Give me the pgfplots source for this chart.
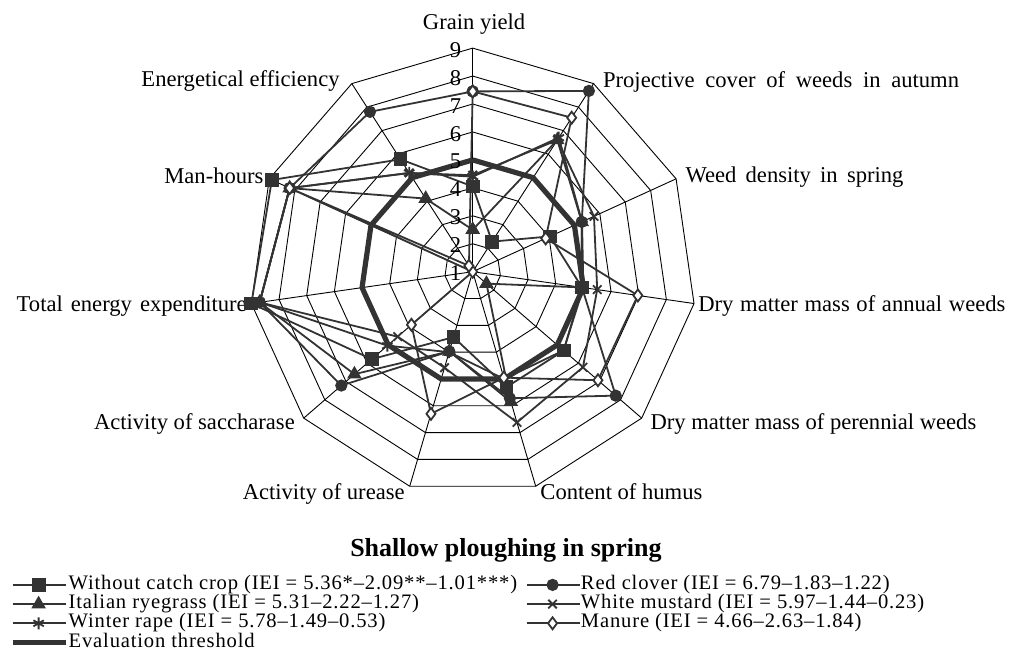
\documentclass[border=0pt]{standalone}
\usepackage{fontspec}
\setmainfont{Liberation Serif}
\newfontfamily\legfont[LetterSpace=4]{Liberation Serif}
\usepackage{pgfplots}
\pgfplotsset{compat=1.18}
\definecolor{ser}{HTML}{333333}
\newcommand{\lblfont}{\fontsize{11.3}{13}\selectfont}
\begin{document}
\begin{tikzpicture}
\path[use as bounding box] (0,0) rectangle (505.5pt,333pt);
\begin{axis}[at={(0,0)}, anchor=south west, scale only axis,
  width=505.5pt, height=333pt,
  xmin=-16.912, xmax=19.259, ymin=-14.107, ymax=9.721,
  hide axis, clip=false,
  grid line/.style={black, line width=0.45pt, forget plot, mark=none},
  series/.style={ser, line width=0.9pt, mark options={solid, fill=ser, draw=ser}},
  legend columns=2,
  legend cell align=left,
  legend style={at={(axis description cs:0.0099,0.1362)}, anchor=north west,
    draw=none, fill=none, inner sep=0pt, outer sep=0pt,
    font=\legfont\fontsize{10.3}{10}\selectfont,
    nodes={inner sep=0.25pt, text height=6.8pt, text depth=2.3pt},
    /tikz/every even column/.append style={column sep=4pt}},
  legend image code/.code={\draw[mark repeat=2,mark phase=2,#1] plot coordinates {(0pt,0pt) (13pt,0pt) (26.5pt,0pt)};},
]
% polygonal rings (values 2..9 -> radius 1..8)
\pgfplotsinvokeforeach{1,2,3,4,5,6,7,8}{
\addplot[grid line, data cs=polar] coordinates {(90,#1) (57.2727,#1) (24.5455,#1) (-8.1818,#1) (-40.9091,#1) (-73.6364,#1) (-106.3636,#1) (-139.0909,#1) (-171.8182,#1) (155.4545,#1) (122.7273,#1) (90,#1)};
}
% spokes
\pgfplotsinvokeforeach{90,57.2727,24.5455,-8.1818,-40.9091,-73.6364,-106.3636,-139.0909,-171.8182,155.4545,122.7273}{
\addplot[grid line, data cs=polar] coordinates {(#1,0) (#1,8)};
}
% series: radius = score - 1 ; axes clockwise from Grain yield
\addplot[series, mark=square*, mark size=3pt, data cs=polar] coordinates {
(90,3.05) (57.2727,1.28) (24.5455,3.04) (-8.1818,3.95) (-40.9091,4.31) (-73.6364,4.30) (-106.3636,2.44) (-139.0909,4.78) (-171.8182,8.00) (155.4545,7.90) (122.7273,4.78) (90,3.05)};
\addlegendentry{Without catch crop (IEI = 5.36*–2.09**–1.01***)}
\addplot[series, mark=*, mark size=2.6pt, data cs=polar] coordinates {
(90,6.45) (57.2727,7.69) (24.5455,4.29) (-8.1818,3.95) (-40.9091,6.77) (-73.6364,4.72) (-106.3636,2.97) (-139.0909,6.22) (-171.8182,7.70) (155.4545,7.20) (122.7273,6.80) (90,6.45)};
\addlegendentry{Red clover (IEI = 6.79–1.83–1.22)}
\addplot[series, mark=triangle*, mark size=3.3pt, data cs=polar] coordinates {
(90,1.50) (57.2727,5.60) (24.5455,4.29) (-8.1818,3.95) (-40.9091,0.65) (-73.6364,4.85) (-106.3636,2.97) (-139.0909,5.60) (-171.8182,7.70) (155.4545,7.20) (122.7273,3.11) (90,1.50)};
\addlegendentry{Italian ryegrass (IEI = 5.31–2.22–1.27)}
\addplot[series, mark=x, mark size=3pt, data cs=polar] coordinates {
(90,3.45) (57.2727,5.60) (24.5455,4.77) (-8.1818,4.50) (-40.9091,5.22) (-73.6364,5.62) (-106.3636,3.58) (-139.0909,3.55) (-171.8182,7.70) (155.4545,7.20) (122.7273,4.20) (90,3.45)};
\addlegendentry{White mustard (IEI = 5.97–1.44–0.23)}
\addplot[series, mark=asterisk, mark size=3pt, data cs=polar] coordinates {
(90,3.40) (57.2727,5.70) (24.5455,4.30) (-8.1818,4.00) (-40.9091,4.30) (-73.6364,4.00) (-106.3636,3.00) (-139.0909,4.04) (-171.8182,7.70) (155.4545,7.20) (122.7273,4.20) (90,3.40)};
\addlegendentry{Winter rape (IEI = 5.78–1.49–0.53)}
\addplot[series, mark=diamond*, mark size=3pt, mark options={solid, fill=white, draw=ser}, data cs=polar] coordinates {
(90,6.45) (57.2727,6.55) (24.5455,2.87) (-8.1818,5.97) (-40.9091,5.93) (-73.6364,3.95) (-106.3636,5.30) (-139.0909,2.90) (-171.8182,0.00) (155.4545,7.20) (122.7273,0.25) (90,6.45)};
\addlegendentry{Manure (IEI = 4.66–2.63–1.84)}
\addplot[ser, line width=2.6pt, mark=none, data cs=polar] coordinates {
(90,4) (57.2727,4) (24.5455,4) (-8.1818,4) (-40.9091,4) (-73.6364,4) (-106.3636,4) (-139.0909,4) (-171.8182,4) (155.4545,4) (122.7273,4) (90,4)};
\addlegendentry{Evaluation threshold}
% ring numbers
\node[anchor=east, inner sep=0pt, font=\lblfont] at (axis cs:-0.40,-0.06) {1};
\node[anchor=east, inner sep=0pt, font=\lblfont] at (axis cs:-0.40,0.94) {2};
\node[anchor=east, inner sep=0pt, font=\lblfont] at (axis cs:-0.40,1.94) {3};
\node[anchor=east, inner sep=0pt, font=\lblfont] at (axis cs:-0.40,2.94) {4};
\node[anchor=east, inner sep=0pt, font=\lblfont] at (axis cs:-0.40,3.94) {5};
\node[anchor=east, inner sep=0pt, font=\lblfont] at (axis cs:-0.40,4.94) {6};
\node[anchor=east, inner sep=0pt, font=\lblfont] at (axis cs:-0.40,5.94) {7};
\node[anchor=east, inner sep=0pt, font=\lblfont] at (axis cs:-0.40,6.94) {8};
\node[anchor=east, inner sep=0pt, font=\lblfont] at (axis cs:-0.40,7.94) {9};
% axis labels
\node[anchor=base, inner sep=0pt, font=\lblfont] at (axis cs:0.05,8.65) {Grain yield};
\node[anchor=base west, inner sep=0pt, font=\lblfont] at (axis cs:4.65,6.60) {\makebox[178pt][s]{Projective cover of weeds in autumn}};
\node[anchor=base west, inner sep=0pt, font=\lblfont] at (axis cs:7.60,3.20) {\makebox[109pt][s]{Weed density in spring}};
\node[anchor=base west, inner sep=0pt, font=\lblfont] at (axis cs:8.06,-1.43) {\makebox[153.5pt][s]{Dry matter mass of annual weeds}};
\node[anchor=base west, inner sep=0pt, font=\lblfont] at (axis cs:6.35,-5.66) {Dry matter mass of perennial weeds};
\node[anchor=base west, inner sep=0pt, font=\lblfont] at (axis cs:2.41,-8.14) {Content of humus};
\node[anchor=base east, inner sep=0pt, font=\lblfont] at (axis cs:-2.42,-8.14) {Activity of urease};
\node[anchor=base east, inner sep=0pt, font=\lblfont] at (axis cs:-6.35,-5.66) {Activity of saccharase};
\node[anchor=base east, inner sep=0pt, font=\lblfont] at (axis cs:-8.07,-1.41) {\makebox[115pt][s]{Total energy expenditure}};
\node[anchor=base east, inner sep=0pt, font=\lblfont] at (axis cs:-7.47,3.14) {Man-hours};
\node[anchor=base east, inner sep=0pt, font=\lblfont] at (axis cs:-4.75,6.61) {Energetical efficiency};
% title
\node[anchor=base, inner sep=0pt, font=\fontsize{13}{15}\selectfont\bfseries] at (axis cs:1.19,-10.18) {Shallow ploughing in spring};
\end{axis}
\end{tikzpicture}
\end{document}
